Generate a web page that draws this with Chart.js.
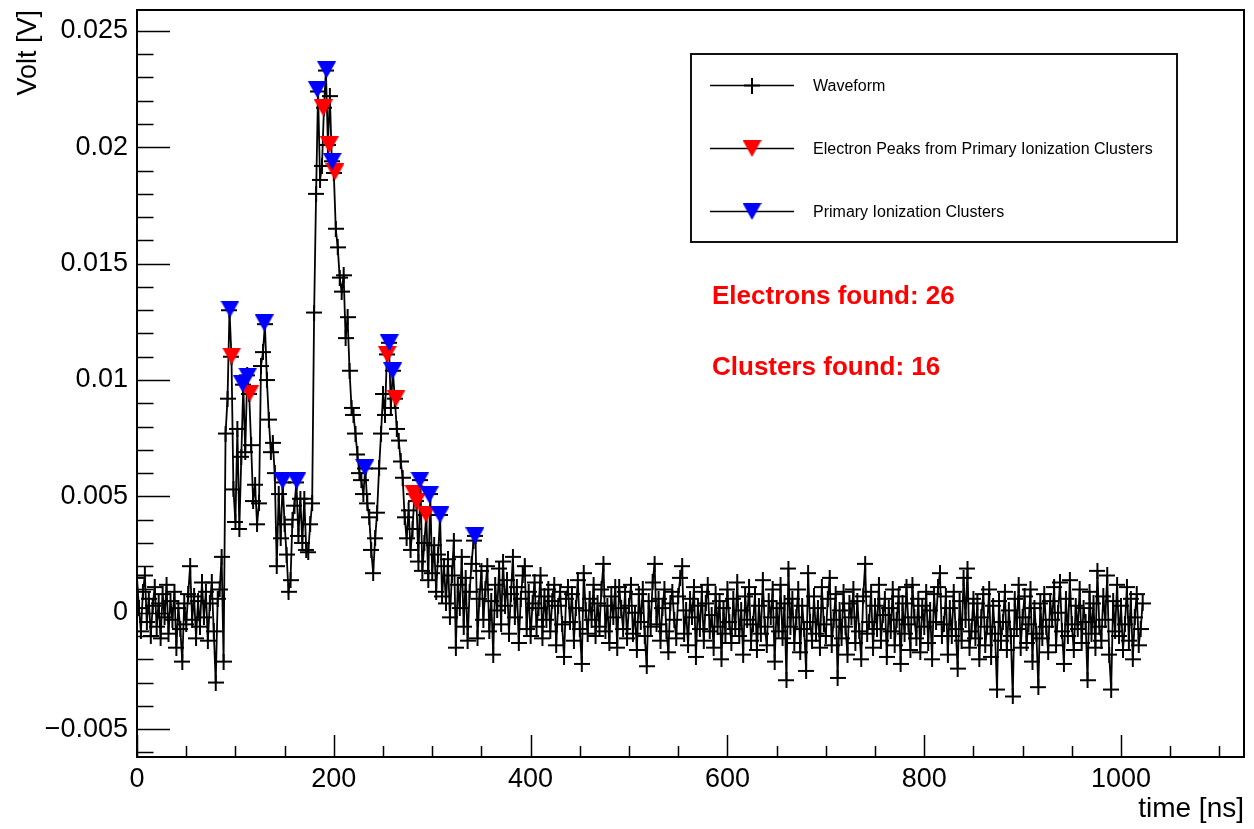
<!DOCTYPE html>
<html>
<head>
<meta charset="utf-8">
<script src="https://cdn.jsdelivr.net/npm/chart.js@4.4.0/dist/chart.umd.min.js"></script>
<style>
html,body{margin:0;padding:0;background:#fff;}
#wrap{width:1254px;height:829px;position:relative;}
</style>
</head>
<body>
<div id="wrap"><canvas id="c" width="1254" height="829"></canvas></div>
<script>
// ---------------- DATA ----------------
const sampleTimesNs = [
0,2,4,6,8,10,12,14,16,18,20,22,24,26,28,30,32,34,36,38,
40,42,44,46,48,50,52,54,56,58,60,62,64,66,68,70,72,74,76,78,
80,82,84,86,88,90,92,94,96,98,100,102,104,106,108,110,112,114,116,118,
120,122,124,126,128,130,132,134,136,138,140,142,144,146,148,150,152,154,156,158,
160,162,164,166,168,170,172,174,176,178,180,182,184,186,188,190,192,194,196,198,
200,202,204,206,208,210,212,214,216,218,220,222,224,226,228,230,232,234,236,238,
240,242,244,246,248,250,252,254,256,258,260,262,264,266,268,270,272,274,276,278,
280,282,284,286,288,290,292,294,296,298,300,302,304,306,308,310,312,314,316,318,
320,322,324,326,328,330,332,334,336,338,340,342,344,346,348,350,352,354,356,358,
360,362,364,366,368,370,372,374,376,378,380,382,384,386,388,390,392,394,396,398,
400,402,404,406,408,410,412,414,416,418,420,422,424,426,428,430,432,434,436,438,
440,442,444,446,448,450,452,454,456,458,460,462,464,466,468,470,472,474,476,478,
480,482,484,486,488,490,492,494,496,498,500,502,504,506,508,510,512,514,516,518,
520,522,524,526,528,530,532,534,536,538,540,542,544,546,548,550,552,554,556,558,
560,562,564,566,568,570,572,574,576,578,580,582,584,586,588,590,592,594,596,598,
600,602,604,606,608,610,612,614,616,618,620,622,624,626,628,630,632,634,636,638,
640,642,644,646,648,650,652,654,656,658,660,662,664,666,668,670,672,674,676,678,
680,682,684,686,688,690,692,694,696,698,700,702,704,706,708,710,712,714,716,718,
720,722,724,726,728,730,732,734,736,738,740,742,744,746,748,750,752,754,756,758,
760,762,764,766,768,770,772,774,776,778,780,782,784,786,788,790,792,794,796,798,
800,802,804,806,808,810,812,814,816,818,820,822,824,826,828,830,832,834,836,838,
840,842,844,846,848,850,852,854,856,858,860,862,864,866,868,870,872,874,876,878,
880,882,884,886,888,890,892,894,896,898,900,902,904,906,908,910,912,914,916,918,
920,922,924,926,928,930,932,934,936,938,940,942,944,946,948,950,952,954,956,958,
960,962,964,966,968,970,972,974,976,978,980,982,984,986,988,990,992,994,996,998,
1000,1002,1004,1006,1008,1010,1012,1014,1016,1018,1020,1022
];

const waveformVolts = [
0.0015,0.0002,-0.0008,0.0009,0.0016,-0.0004,0.0006,-0.0010,0.0003,0.0011,
-0.0006,0.0004,-0.0011,0.0008,-0.0002,0.0012,-0.0009,0.0005,-0.0003,0.0009,
-0.0015,0.0002,-0.0007,-0.0021,0.0004,-0.0005,0.0008,0.0020,-0.0003,0.0007,
-0.0011,0.0005,-0.0006,0.0013,-0.0002,0.0009,-0.0012,0.0004,0.0013,-0.0008,
-0.0030,0.0006,0.0010,0.0024,-0.0021,0.0077,0.0092,0.0130,0.0110,0.0053,
0.0039,0.0079,0.0036,0.0067,0.0098,0.0069,0.0102,0.0094,0.0072,0.0048,
0.0055,0.0038,0.0047,0.0106,0.0112,0.0124,0.0100,0.0083,0.0069,0.0073,
0.0060,0.0020,0.0051,0.0032,0.0056,0.0038,0.0025,0.0009,0.0014,0.0040,
0.0046,0.0056,0.0033,0.0049,0.0030,0.0049,0.0027,0.0026,0.0038,0.0047,
0.0129,0.0180,0.0224,0.0186,0.0192,0.0217,0.0233,0.0201,0.0222,0.0194,
0.0189,0.0165,0.0157,0.0144,0.0138,0.0145,0.0118,0.0127,0.0104,0.0088,
0.0085,0.0077,0.0068,0.0060,0.0057,0.0051,0.0062,0.0047,0.0041,0.0027,
0.0017,0.0032,0.0043,0.0062,0.0077,0.0094,0.0085,0.0111,0.0116,0.0088,
0.0104,0.0092,0.0079,0.0074,0.0065,0.0058,0.0041,0.0032,0.0044,0.0027,
0.0036,0.0051,0.0048,0.0022,0.0057,0.0018,0.0030,0.0042,0.0014,0.0051,
0.0017,0.0029,0.0009,0.0025,0.0042,0.0007,0.0020,0.0004,0.0023,-0.0002,
0.0016,0.0031,-0.0015,0.0012,0.0002,0.0024,-0.0006,0.0015,-0.0012,0.0009,
0.0021,0.0031,0.0033,-0.0011,0.0006,0.0018,-0.0003,0.0010,0.0020,-0.0008,
0.0005,-0.0018,0.0012,0.0001,0.0019,-0.0005,0.0022,0.0003,0.0014,-0.0009,
0.0008,0.0024,-0.0002,0.0011,-0.0013,0.0006,0.0016,0.0020,-0.0007,0.0009,
-0.0010,0.0004,0.0013,-0.0006,0.0002,0.0016,-0.0011,0.0007,-0.0003,0.0010,
-0.0008,0.0005,0.0012,-0.0014,0.0003,0.0009,-0.0005,-0.0019,0.0006,0.0011,
-0.0004,0.0008,-0.0012,0.0002,0.0014,-0.0007,-0.0022,0.0017,0.0001,-0.0009,
0.0006,-0.0003,0.0012,-0.0010,0.0004,-0.0006,0.0010,0.0021,-0.0008,0.0003,
-0.0013,0.0007,-0.0002,0.0011,-0.0015,0.0011,0.0002,-0.0007,0.0009,-0.0011,
0.0003,0.0012,-0.0009,0.0000,-0.0016,0.0008,-0.0004,0.0010,-0.0010,-0.0023,
0.0005,-0.0006,0.0013,0.0021,-0.0005,0.0006,-0.0012,0.0002,0.0010,-0.0008,
-0.0017,0.0004,0.0009,-0.0003,-0.0011,0.0007,0.0015,0.0020,-0.0009,0.0001,
-0.0014,0.0006,-0.0002,0.0011,-0.0019,0.0003,-0.0007,0.0009,-0.0012,0.0004,
0.0012,-0.0008,-0.0001,-0.0015,0.0008,-0.0006,0.0005,-0.0020,0.0002,-0.0009,
0.0010,-0.0004,-0.0013,0.0006,-0.0007,0.0013,-0.0010,0.0001,-0.0018,0.0007,
-0.0003,0.0011,-0.0012,-0.0005,0.0008,-0.0016,0.0003,-0.0009,0.0014,-0.0006,
-0.0014,0.0005,-0.0002,0.0010,-0.0021,0.0002,-0.0008,0.0012,-0.0011,0.0004,
-0.0029,0.0019,-0.0006,0.0006,-0.0013,-0.0002,0.0010,-0.0017,0.0003,-0.0007,
-0.0025,0.0017,-0.0004,-0.0012,0.0007,-0.0009,0.0002,-0.0015,0.0011,-0.0005,
-0.0010,0.0006,0.0015,-0.0014,-0.0003,0.0008,-0.0028,0.0001,-0.0011,0.0009,
-0.0006,-0.0018,0.0004,-0.0002,0.0010,-0.0013,0.0005,-0.0008,-0.0020,0.0007,
0.0021,-0.0009,-0.0004,0.0009,-0.0015,0.0003,-0.0007,0.0012,-0.0012,-0.0001,
0.0006,-0.0019,0.0002,-0.0008,0.0010,-0.0014,-0.0003,0.0007,-0.0022,0.0004,
-0.0009,0.0011,-0.0005,-0.0016,0.0012,-0.0002,-0.0011,0.0006,-0.0017,0.0003,
-0.0006,0.0009,-0.0013,0.0001,-0.0020,0.0008,-0.0004,0.0011,0.0017,-0.0010,
-0.0005,0.0007,-0.0018,0.0002,-0.0010,0.0009,-0.0007,-0.0024,0.0005,-0.0012,
0.0015,-0.0003,0.0019,-0.0015,-0.0008,0.0006,-0.0011,0.0004,-0.0020,-0.0002,
0.0008,-0.0014,-0.0006,0.0010,-0.0019,0.0003,-0.0009,-0.0033,0.0005,-0.0012,
-0.0004,0.0009,-0.0016,0.0001,-0.0010,-0.0036,0.0006,-0.0007,0.0012,-0.0015,
-0.0002,0.0007,-0.0013,-0.0005,0.0010,-0.0021,0.0002,-0.0009,-0.0032,0.0004,
-0.0011,0.0008,-0.0006,-0.0017,0.0005,-0.0003,0.0011,-0.0014,0.0000,0.0013,
-0.0008,-0.0022,0.0006,-0.0010,0.0014,-0.0005,-0.0016,0.0003,-0.0007,0.0010,
-0.0013,0.0002,-0.0004,-0.0029,0.0009,-0.0009,0.0004,-0.0015,0.0018,-0.0006,
-0.0012,0.0007,-0.0003,0.0016,-0.0018,-0.0033,0.0005,-0.0008,0.0012,-0.0010,
0.0003,-0.0016,-0.0005,0.0011,-0.0012,0.0006,-0.0020,-0.0002,0.0008,-0.0014,
-0.0007,0.0004
];

const clusterTimesNs = [94.5,107.4,112.5,129.3,148.0,162.3,183.2,192.7,198.4,231.7,256.4,259.8,287.5,297.0,307.9,343.4];
const clusterVolts   = [0.01305,0.00983,0.01017,0.01245,0.00567,0.00567,0.02248,0.02333,0.0194,0.00624,0.0116,0.01039,0.0057,0.00506,0.0042,0.0033];

const electronTimesNs = [96.2,114.8,189.3,195.4,201.2,254.3,263.2,281.5,284.2,293.6];
const electronVolts   = [0.01103,0.00944,0.02169,0.02011,0.01894,0.0111,0.00921,0.00512,0.0048,0.00424];

const xMajorTicks = [0,200,400,600,800,1000];
const xTickLabels = ["0","200","400","600","800","1000"];
const yMajorTicks = [-0.005,0,0.005,0.01,0.015,0.02,0.025];
const yTickLabels = ["\u22120.005","0","0.005","0.01","0.015","0.02","0.025"];

const seriesLabels = ["Waveform","Electron Peaks from Primary Ionization Clusters","Primary Ionization Clusters"];

// ---------------- STYLE HELPERS ----------------
const FONT = "'Liberation Sans', Arial, Helvetica, sans-serif";

function makeCross(size, lw, color) {
  const c = document.createElement('canvas');
  c.width = size; c.height = size;
  const g = c.getContext('2d');
  g.strokeStyle = color; g.lineWidth = lw;
  g.beginPath();
  g.moveTo(0, size / 2); g.lineTo(size, size / 2);
  g.moveTo(size / 2, 0); g.lineTo(size / 2, size);
  g.stroke();
  return c;
}
function makeTriangleDown(w, h, color) {
  const c = document.createElement('canvas');
  c.width = w; c.height = h;
  const g = c.getContext('2d');
  g.fillStyle = color;
  g.beginPath();
  g.moveTo(0, 0); g.lineTo(w, 0); g.lineTo(w / 2, h); g.closePath();
  g.fill();
  return c;
}
const crossImg = makeCross(16, 2, '#000');
const redTri = makeTriangleDown(19, 17, '#ff0000');
const blueTri = makeTriangleDown(19, 17, '#0000ff');

const waveformPoints = sampleTimesNs.map((t, i) => ({x: t, y: waveformVolts[i]}));
const electronPoints = electronTimesNs.map((t, i) => ({x: t, y: electronVolts[i]}));
const clusterPoints = clusterTimesNs.map((t, i) => ({x: t, y: clusterVolts[i]}));

// ---------------- PLUGIN: ROOT-like frame, inner ticks, legend, counters ----------------
const rootDecor = {
  id: 'rootDecor',
  beforeDraw(chart) {
    const {ctx} = chart;
    ctx.save();
    ctx.fillStyle = '#fff';
    ctx.fillRect(0, 0, chart.width, chart.height);
    ctx.restore();
  },
  afterDraw(chart) {
    const {ctx, chartArea: a, scales: {x, y}} = chart;
    ctx.save();
    // frame
    ctx.strokeStyle = '#000';
    ctx.lineWidth = 2;
    ctx.strokeRect(a.left, a.top, a.right - a.left, a.bottom - a.top);
    // x ticks (inside)
    ctx.lineWidth = 1.5;
    ctx.beginPath();
    for (let v = 0; v <= x.max + 1e-9; v += 50) {
      const px = Math.round(x.getPixelForValue(v)) + 0.5;
      const len = (v % 200 === 0) ? 22 : 11;
      ctx.moveTo(px, a.bottom); ctx.lineTo(px, a.bottom - len);
    }
    // y ticks (inside)
    for (let k = -6; k <= 25; k++) {
      const py = Math.round(y.getPixelForValue(k / 1000)) + 0.5;
      if (py < a.top || py > a.bottom) continue;
      const len = (k % 5 === 0) ? 33 : 16.5;
      ctx.moveTo(a.left, py); ctx.lineTo(a.left + len, py);
    }
    ctx.stroke();

    // legend box
    const L = {x1: 691, y1: 54, x2: 1177, y2: 242};
    ctx.fillStyle = '#fff';
    ctx.fillRect(L.x1, L.y1, L.x2 - L.x1, L.y2 - L.y1);
    ctx.strokeStyle = '#111';
    ctx.lineWidth = 2;
    ctx.strokeRect(L.x1, L.y1, L.x2 - L.x1, L.y2 - L.y1);
    const imgs = [crossImg, redTri, blueTri];
    const rowH = (L.y2 - L.y1) / 3;
    ctx.font = '16px ' + FONT;
    ctx.textBaseline = 'middle';
    ctx.textAlign = 'left';
    for (let i = 0; i < 3; i++) {
      const cy = Math.round(L.y1 + rowH * (i + 0.5)) + 0.5;
      ctx.strokeStyle = '#000';
      ctx.lineWidth = 1.5;
      ctx.beginPath();
      ctx.moveTo(L.x1 + 19, cy); ctx.lineTo(L.x1 + 103, cy);
      ctx.stroke();
      const img = imgs[i];
      ctx.drawImage(img, L.x1 + 61 - img.width / 2, cy - img.height / 2);
      ctx.fillStyle = '#000';
      ctx.fillText(chart.data.datasets[i].label, L.x1 + 122, cy + 1);
    }

    // counters
    ctx.fillStyle = '#ff0000';
    ctx.font = 'bold 26px ' + FONT;
    ctx.textBaseline = 'middle';
    const nElectrons = electronTimesNs.length + clusterTimesNs.length;
    const nClusters = clusterTimesNs.length;
    ctx.fillText('Electrons found: ' + nElectrons, 712, 297);
    ctx.fillText('Clusters found: ' + nClusters, 712, 368);
    ctx.restore();
  }
};

Chart.defaults.font.family = FONT;
Chart.defaults.color = '#000';

new Chart(document.getElementById('c'), {
  type: 'line',
  data: {
    datasets: [
      {
        label: seriesLabels[0],
        data: waveformPoints,
        borderColor: '#000',
        borderWidth: 1.8,
        pointStyle: crossImg,
        pointRadius: 8,
        tension: 0,
        fill: false,
        order: 3
      },
      {
        label: seriesLabels[1],
        data: electronPoints,
        showLine: false,
        pointStyle: redTri,
        pointRadius: 9,
        order: 2
      },
      {
        label: seriesLabels[2],
        data: clusterPoints,
        showLine: false,
        pointStyle: blueTri,
        pointRadius: 9,
        order: 1
      }
    ]
  },
  options: {
    responsive: false,
    animation: false,
    devicePixelRatio: 1,
    layout: {padding: {top: 8, right: 9, left: 0, bottom: 0}},
    plugins: {legend: {display: false}, tooltip: {enabled: false}},
    events: [],
    scales: {
      x: {
        type: 'linear',
        min: 0,
        max: 1125,
        grid: {display: false, drawTicks: false},
        border: {display: false},
        afterBuildTicks: s => { s.ticks = xMajorTicks.map(v => ({value: v})); },
        afterFit: s => { s.height = 72; s.paddingLeft = 0; s.paddingRight = 0; },
        ticks: {
          autoSkip: false,
          maxRotation: 0,
          padding: 6,
          font: {size: 27},
          callback: (v, i) => xTickLabels[i]
        },
        title: {
          display: true, text: 'time [ns]', align: 'end',
          font: {size: 28}, padding: {top: 0, bottom: 3}
        }
      },
      y: {
        type: 'linear',
        min: -0.0062,
        max: 0.0259,
        grid: {display: false, drawTicks: false},
        border: {display: false},
        afterBuildTicks: s => { s.ticks = yMajorTicks.map(v => ({value: v})); },
        afterFit: s => { s.width = 137; s.paddingTop = 0; s.paddingBottom = 0; },
        ticks: {
          autoSkip: false,
          padding: 9,
          font: {size: 27},
          callback: (v, i) => yTickLabels[i]
        },
        title: {
          display: true, text: 'Volt [V]', align: 'end',
          font: {size: 27}, padding: {top: 12, bottom: 0}
        }
      }
    }
  },
  plugins: [rootDecor]
});
</script>
</body>
</html>
